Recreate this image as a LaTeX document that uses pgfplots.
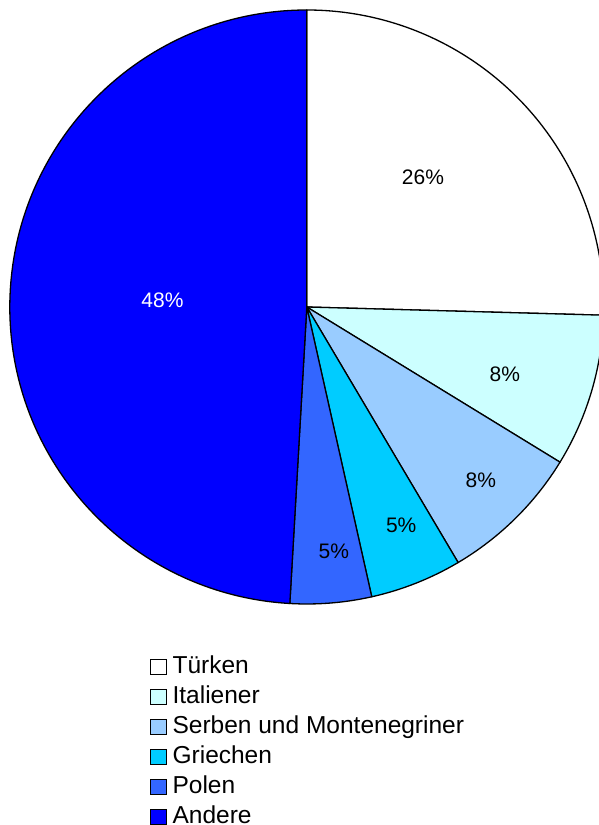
\documentclass[border=0pt]{standalone}
\usepackage{fontspec}
\setmainfont{Liberation Sans}
\usepackage{pgfplots}
\usepackage{pgfplotstable}
\pgfplotsset{compat=1.18}

\definecolor{cTur}{HTML}{FFFFFF}
\definecolor{cIta}{HTML}{CCFFFF}
\definecolor{cSer}{HTML}{99CCFF}
\definecolor{cGri}{HTML}{00CCFF}
\definecolor{cPol}{HTML}{3366FF}
\definecolor{cAnd}{HTML}{0000FF}

\newcommand\labfont{\fontsize{21}{21}\selectfont}

% share, label as printed in the chart
\pgfplotstableread[col sep=comma]{
share,fill,lx,ly,label,tcol,entname
25.44,cTur,0.391,0.438,26,black,Türken
8.31,cIta,0.667,-0.226,8,black,Italiener
7.74,cSer,0.586,-0.582,8,black,Serben und Montenegriner
5.00,cGri,0.318,-0.736,5,black,Griechen
4.42,cPol,0.091,-0.822,5,black,Polen
49.09,cAnd,-0.486,0.022,48,white,Andere
}\piedata

\begin{document}
\begin{tikzpicture}[x=1pt,y=1pt]
\useasboundingbox (0,0) rectangle (599,825);
\begin{axis}[
    at={(306.8pt,518pt)}, anchor=center,
    width=594pt, height=594pt, scale only axis,
    xmin=-1, xmax=1, ymin=-1, ymax=1,
    hide axis, clip=false,
    legend image code/.code={\draw[#1] (0pt,-7.5pt) rectangle (16pt,7.5pt); \path (19pt,0pt);},
    legend cell align=left,
    legend style={draw=none, fill=none, at={(0.235,-0.081)}, anchor=north west,
        font=\fontsize{24.5}{24.5}\selectfont, inner sep=0pt, row sep=0pt, column sep=0pt,
        nodes={inner sep=3pt, text height=18pt, text depth=6pt}},
]
\def\startang{90}
\pgfplotsforeachungrouped \i in {0,...,5}{%
    \pgfplotstablegetelem{\i}{share}\of\piedata \let\share\pgfplotsretval
    \pgfplotstablegetelem{\i}{fill}\of\piedata \let\col\pgfplotsretval
    \pgfplotstablegetelem{\i}{entname}\of\piedata \let\entname\pgfplotsretval
    \pgfmathsetmacro\endang{\startang-3.6*\share}
    \pgfmathsetmacro\sx{cos(\startang)}
    \pgfmathsetmacro\sy{sin(\startang)}
    \edef\doslice{\noexpand\fill[fill=\col, draw=black, line width=1.3pt, line join=round]
        (axis cs:0,0) -- (axis cs:\sx,\sy) arc[start angle=\startang, end angle=\endang, radius=297pt] -- cycle;}%
    \doslice
    \edef\doleg{\noexpand\addlegendimage{fill=\col, draw=black, line width=1pt}\noexpand\addlegendentry{\entname}}%
    \doleg
    \let\startang\endang
}
\pgfplotsforeachungrouped \i in {0,...,5}{%
    \pgfplotstablegetelem{\i}{lx}\of\piedata \let\lx\pgfplotsretval
    \pgfplotstablegetelem{\i}{ly}\of\piedata \let\ly\pgfplotsretval
    \pgfplotstablegetelem{\i}{label}\of\piedata \let\lab\pgfplotsretval
    \pgfplotstablegetelem{\i}{tcol}\of\piedata \let\tcol\pgfplotsretval
    \edef\dolabel{\noexpand\node[text=\tcol, font=\noexpand\labfont, inner sep=0pt] at (axis cs:\lx,\ly) {\lab\noexpand\%};}%
    \dolabel
}
\end{axis}
\end{tikzpicture}
\end{document}
